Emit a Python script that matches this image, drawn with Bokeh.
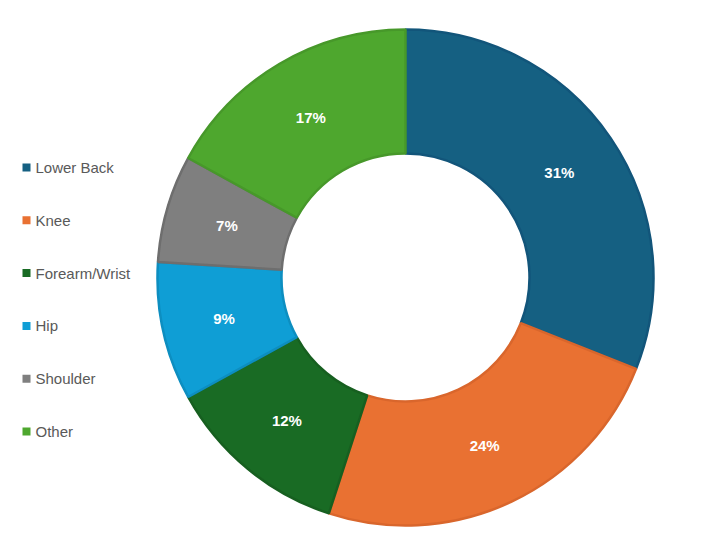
import math
from bokeh.plotting import figure
from bokeh.models import Range1d, ColumnDataSource
from bokeh.core.properties import value
from bokeh.embed import file_html
from bokeh.resources import INLINE

categories = ["Lower Back", "Knee", "Forearm/Wrist", "Hip", "Shoulder", "Other"]
shares = [31, 24, 12, 9, 7, 17]
colors = ["#156082", "#E97132", "#196B24", "#0F9ED5", "#7F7F7F", "#4EA72E"]
edge_colors = ["#12557A", "#D9662C", "#175F20", "#0D8EC0", "#6E6E6E", "#47982A"]

W, H = 688, 537
p = figure(width=W, height=H, output_backend="svg", toolbar_location=None,
           x_range=Range1d(0, W), y_range=Range1d(0, H), min_border=0)
p.axis.visible = False
p.grid.visible = False
p.outline_line_color = None
p.background_fill_color = "white"

cx, cy = 405, H - 277
r_out, r_in = 248, 124

total = sum(shares)
starts, ends, lx, ly, labels = [], [], [], [], []
cum = 0
for s in shares:
    a0 = math.pi / 2 - 2 * math.pi * cum / total
    a1 = math.pi / 2 - 2 * math.pi * (cum + s) / total
    starts.append(a0)
    ends.append(a1)
    mid = (a0 + a1) / 2
    rm = (r_out + r_in) / 2
    lx.append(cx + rm * math.cos(mid))
    ly.append(cy + rm * math.sin(mid))
    labels.append(f"{round(100 * s / total)}%")
    cum += s

src = ColumnDataSource(dict(start=starts, end=ends, color=colors, edge=edge_colors,
                            lx=lx, ly=ly, label=labels, cat=categories))
p.annular_wedge(x=cx, y=cy, inner_radius=r_in, outer_radius=r_out,
                start_angle="start", end_angle="end", direction="clock",
                fill_color="color", line_color="edge", line_width=2.5, source=src)
p.text(x="lx", y="ly", text="label", source=src, text_color="white",
       text_font=value("Liberation Sans"), text_font_style="bold",
       text_font_size="15px", text_align="center", text_baseline="middle")

# legend
leg_y = [H - 167 - 52.8 * i for i in range(len(categories))]
leg_src = ColumnDataSource(dict(y=leg_y, color=colors, cat=categories))
p.scatter(x=26, y="y", size=8, marker="square", fill_color="color",
          line_color=None, source=leg_src)
p.text(x=35, y="y", text="cat", source=leg_src, text_color="#595959",
       text_font=value("Liberation Sans"), text_font_size="15px",
       text_align="left", text_baseline="middle")

open("out.html", "w").write(file_html(p, INLINE))
